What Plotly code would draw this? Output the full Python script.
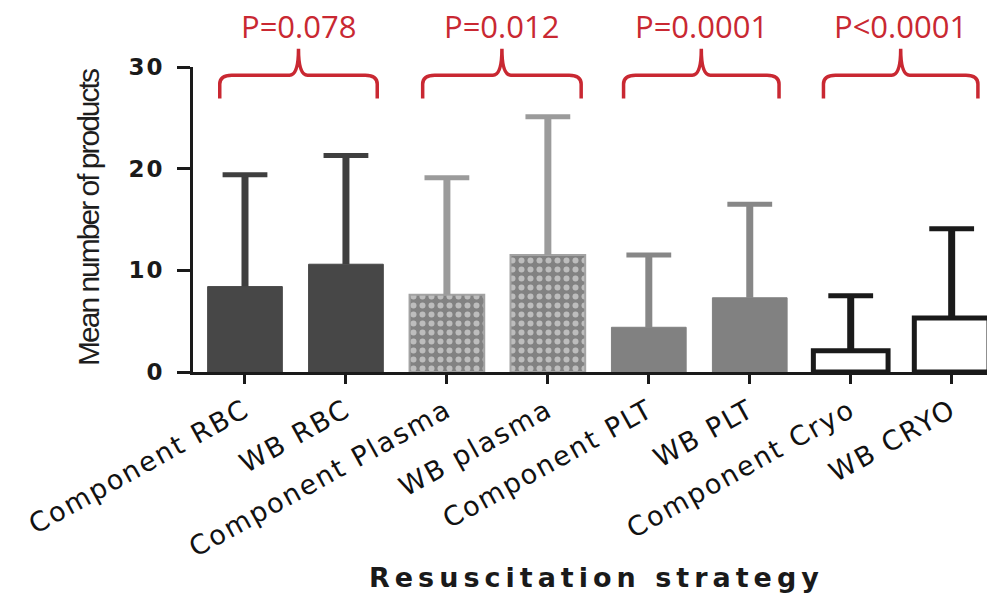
import plotly.graph_objects as go

# ---- data ----
categories = ["Component RBC", "WB RBC", "Component Plasma", "WB plasma",
              "Component PLT", "WB PLT", "Component Cryo", "WB CRYO"]
mean_products = [8.4, 10.6, 7.6, 11.5, 4.4, 7.3, 2.1, 5.3]
sd_products = [11.0, 10.7, 11.5, 13.6, 7.1, 9.2, 5.4, 8.8]
p_labels = ["P=0.078", "P=0.012", "P=0.0001", "P<0.0001"]
y_ticks = [0, 10, 20, 30]

# comparison brackets (x in category units, y in products)
bracket_left = [-0.25, 1.76, 3.75, 5.73]
bracket_right = [1.31, 3.33, 5.29, 7.26]
bracket_top = 29.2
bracket_foot = 26.9
bracket_tip = 31.8

# ---- styling per product pair ----
group_styles = [
    dict(color="#474747", line="#474747", lw=1, err="#3f3f3f", pattern=None),
    dict(color="#8f8f8f", line="#a3a3a3", lw=2, err="#9b9b9b",
         pattern=dict(shape=".", bgcolor="#828282", fgcolor="#bdbdbd",
                      size=9, solidity=0.35, fillmode="replace")),
    dict(color="#818181", line="#818181", lw=1, err="#878787", pattern=None),
    dict(color="#ffffff", line="#1a1a1a", lw=5, err="#1a1a1a", pattern=None),
]

X0, X1 = -0.515, 7.35
Y0, Y1 = 0, 30
PLOT_W, PLOT_H = 794, 305.6

fig = go.Figure()
for g, st in enumerate(group_styles):
    idx = [2 * g, 2 * g + 1]
    marker = dict(color=st["color"], line=dict(color=st["line"], width=st["lw"]))
    if st["pattern"]:
        marker["pattern"] = st["pattern"]
    fig.add_trace(go.Bar(
        x=idx,
        y=[mean_products[i] for i in idx],
        width=0.74,
        marker=marker,
        showlegend=False,
        hoverinfo="skip",
    ))

# upper SD whiskers: stem from the bar top, cap at mean + SD
for g, st in enumerate(group_styles):
    idx = [2 * g, 2 * g + 1]
    xs, ys = [], []
    for i in idx:
        xs += [i, i, None]
        ys += [mean_products[i], mean_products[i] + sd_products[i], None]
    fig.add_trace(go.Scatter(
        x=xs, y=ys, mode="lines",
        line=dict(color=st["err"], width=7),
        showlegend=False, hoverinfo="skip", cliponaxis=False,
    ))
    fig.add_trace(go.Scatter(
        x=idx, y=[mean_products[i] + sd_products[i] for i in idx],
        mode="markers",
        marker=dict(symbol="line-ew", size=32,
                    line=dict(color=st["err"], width=5)),
        showlegend=False, hoverinfo="skip", cliponaxis=False,
    ))


def xp(v):
    return (v - X0) / (X1 - X0)


def yp(v):
    return (v - Y0) / (Y1 - Y0)


rx = 12 / PLOT_W   # corner radius, paper units
ry = 9 / PLOT_H
cw = 9 / PLOT_W    # half width of the brace tip
red = "#c92832"

shapes = []
annotations = []
for left, right, label in zip(bracket_left, bracket_right, p_labels):
    L, R = xp(left), xp(right)
    C = (L + R) / 2
    T, B, P = yp(bracket_top), yp(bracket_foot), yp(bracket_tip)
    path = (f"M {L},{B} L {L},{T - ry} Q {L},{T} {L + rx},{T} "
            f"L {C - cw},{T} Q {C},{T} {C},{P} Q {C},{T} {C + cw},{T} "
            f"L {R - rx},{T} Q {R},{T} {R},{T - ry} L {R},{B}")
    shapes.append(dict(type="path", path=path, xref="paper", yref="paper",
                       line=dict(color=red, width=3.5)))
    annotations.append(dict(
        x=(left + right) / 2, xref="x", y=yp(34.0), yref="paper",
        text=label, showarrow=False, xanchor="center", yanchor="middle",
        font=dict(family="Open Sans", size=31, color=red)))

annotations.append(dict(
    x=-104 / PLOT_W, y=0.505, xref="paper", yref="paper",
    text='<span style="letter-spacing:-2px">Mean number of products</span>',
    textangle=-90, showarrow=False,
    xanchor="center", yanchor="middle",
    font=dict(family="Liberation Sans", size=30, color="#1e1e1e")))

annotations.append(dict(
    x=0.508, y=-0.675, xref="paper", yref="paper",
    text='<b><span style="letter-spacing:5px">Resuscitation strategy</span></b>',
    showarrow=False, xanchor="center", yanchor="middle",
    font=dict(family="DejaVu Sans", size=27, color="#1a1a1a")))

fig.update_layout(
    width=987, height=597,
    margin=dict(l=193, r=0, t=66.7, b=224.7),
    paper_bgcolor="white", plot_bgcolor="white",
    barmode="overlay",
    shapes=shapes, annotations=annotations,
    template="none",
)

fig.update_xaxes(
    range=[X0, X1], tickmode="array", tickvals=list(range(len(categories))),
    ticktext=[f'<span style="letter-spacing:2px">{c}</span>' for c in categories],
    tickangle=-29, ticks="outside", ticklen=9, tickwidth=3, tickcolor="#1a1a1a",
    showline=True, linewidth=3, linecolor="#1a1a1a",
    showgrid=False, zeroline=False, automargin=False,
    tickfont=dict(family="DejaVu Sans", size=27, color="#111111"),
)
fig.update_yaxes(
    range=[Y0, Y1], tickmode="array", tickvals=y_ticks,
    ticktext=[f'<b><span style="letter-spacing:2px">{t}</span></b>' for t in y_ticks],
    ticks="outside", ticklen=13, tickwidth=3, tickcolor="#1a1a1a",
    ticklabelstandoff=8,
    showline=True, linewidth=3, linecolor="#1a1a1a",
    showgrid=False, zeroline=False, automargin=False,
    tickfont=dict(family="DejaVu Sans", size=23, color="#1a1a1a"),
)

fig.write_html("out.html")
